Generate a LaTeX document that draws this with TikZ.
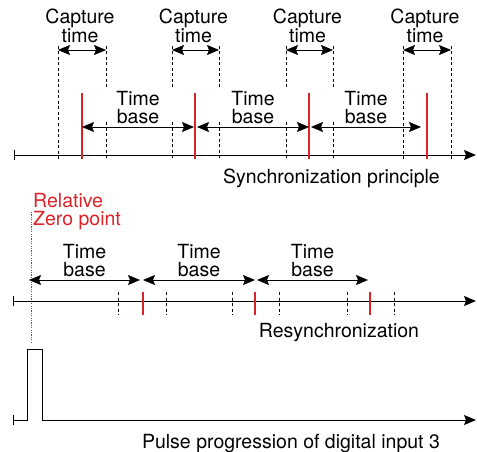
\documentclass[tikz,border=0pt]{standalone}
\usepackage{fontspec}
\setmainfont{TeX Gyre Heros}
\usetikzlibrary{arrows,arrows.meta}
\definecolor{zred}{RGB}{220,35,40}

\begin{document}
\begin{tikzpicture}[x=1pt,y=-1pt,
txt/.style={font=\fontsize{19.5}{18}\selectfont,inner sep=0pt,align=center},
redtxt/.style={txt,text=zred,align=left},
dbl/.style={{Stealth[length=12pt,width=10pt,inset=2pt]}-{Stealth[length=12pt,width=10pt,inset=2pt]},line width=0.7pt},
axis/.style={-{Stealth[length=12pt,width=10pt,inset=2pt]},line width=1pt},
tick/.style={line width=1pt},
guide/.style={dash pattern=on 3pt off 2.5pt,line width=0.6pt},
sync/.style={zred,line width=1.1pt},
zero/.style={zred,dash pattern=on 1.2pt off 1.2pt,line width=1pt} ]

\useasboundingbox (0,0) rectangle (477,452);

% synchronization principle
\coordinate (a1s) at (14,155);
\coordinate (a1e) at (476,155);
\draw[axis] (a1s) -- (a1e);
\draw[tick] ([yshift=-5pt]a1s) -- ([yshift=5pt]a1s);

\foreach \l/\r [count=\i] in {58/106,172/219,286/333,403/451}{
\coordinate (cl\i) at (\l,50);
\coordinate (cr\i) at (\r,50);
\draw[dbl] (cl\i) -- (cr\i);
\node[txt] (cap\i) at ({(\l+\r)/2-2},26) {Capture\\time};
}

\foreach \x in {58,403,451}{
\coordinate (gt\x) at (\x,46);
\coordinate (gb\x) at (\x,160);
\draw[guide] (gt\x) -- (gb\x);
}
\foreach \x in {106,172,219,286,333}{
\coordinate (gt\x) at (\x,46);
\coordinate (gm\x) at (\x,88);
\coordinate (gn\x) at (\x,122);
\coordinate (gb\x) at (\x,160);
\draw[guide] (gt\x) -- (gm\x);
\draw[guide] (gn\x) -- (gb\x);
}

\foreach \x [count=\i] in {82,195,309,427}{
\coordinate (st\i) at (\x,93);
\coordinate (sb\i) at (\x,159);
\draw[sync] (st\i) -- (sb\i);
}

\foreach \l/\r [count=\i] in {82/194,197/309,311/421}{
\coordinate (tl\i) at (\l,127);
\coordinate (tr\i) at (\r,127);
\draw[dbl] (tl\i) -- (tr\i);
\node[txt] (tb\i) at ({(\l+\r)/2},108) {Time\\base};
}

\node[txt,anchor=east] (sp) at (440,178) {Synchronization principle};

% resynchronization
\node[redtxt,anchor=west] (rz) at (33,212) {Relative\\Zero point};
\coordinate (zt) at (31,212);
\coordinate (zb) at (31,343);
\draw[zero] (zt) -- (zb);

\coordinate (a2s) at (13,301);
\coordinate (a2e) at (476,301);
\draw[axis] (a2s) -- (a2e);
\draw[tick] ([yshift=-5pt]a2s) -- ([yshift=5pt]a2s);

\foreach \l/\r [count=\i] in {29/140,143/255,257/368}{
\coordinate (rl\i) at (\l,280);
\coordinate (rr\i) at (\r,280);
\draw[dbl] (rl\i) -- (rr\i);
\node[txt] (rb\i) at ({(\l+\r)/2},261) {Time\\base};
}

\foreach \x in {118,166,232,279,347,394}{
\coordinate (ht\x) at (\x,292);
\coordinate (hb\x) at (\x,315);
\draw[guide] (ht\x) -- (hb\x);
}
\foreach \x [count=\i] in {143,255,370}{
\coordinate (qt\i) at (\x,292);
\coordinate (qb\i) at (\x,315);
\draw[sync] (qt\i) -- (qb\i);
}

\node[txt] (rs) at (339,333) {Resynchronization};

% digital input
\coordinate (p0) at (13,420);
\coordinate (p1) at (27,420);
\coordinate (p2) at (27,349);
\coordinate (p3) at (42,349);
\coordinate (p4) at (42,420);
\coordinate (p5) at (476,420);
\draw[axis] (p0) -- (p1) -- (p2) -- (p3) -- (p4) -- (p5);
\draw[tick] ([yshift=-5pt]p0) -- ([yshift=5pt]p0);

\node[txt] (pp) at (291,443) {Pulse progression of digital input 3};

\end{tikzpicture}
\end{document}
